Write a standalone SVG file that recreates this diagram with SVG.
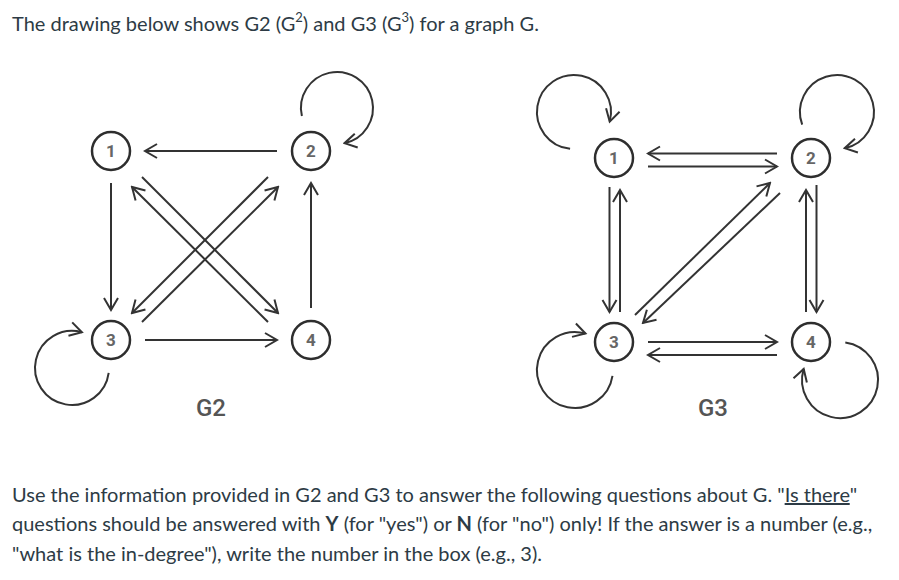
<svg xmlns="http://www.w3.org/2000/svg" width="899" height="580" viewBox="0 0 899 580">
<style>
.para{font-family:Lato,"Liberation Sans",sans-serif;font-size:20px;fill:#2d3b45}
.node circle{fill:#fff;stroke:#2e2e2e;stroke-width:2.5}
.node text{font-family:Roboto,"Liberation Sans",sans-serif;font-size:17px;font-weight:bold;fill:#666;text-anchor:middle}
.lbl{font-family:Roboto,"Liberation Sans",sans-serif;font-size:24px;font-weight:500;fill:#555;text-anchor:middle}
.edges path{fill:none;stroke:#333;stroke-width:2;marker-end:url(#ah)}
</style>
<defs>
<marker id="ah" markerUnits="userSpaceOnUse" viewBox="-14 -9 16 18" refX="0" refY="0" markerWidth="16" markerHeight="18" orient="auto">
<path d="M-12,-7 L0,0 L-12,7" fill="none" stroke="#333" stroke-width="2" stroke-linejoin="miter"/>
</marker>
</defs>
<rect width="899" height="580" fill="#fff"/>
<text class="para" x="12" y="31">The drawing below shows G2 (G<tspan font-size="13" dy="-9">2</tspan><tspan dy="9">) and G3 (G</tspan><tspan font-size="13" dy="-9">3</tspan><tspan dy="9">) for a graph G.</tspan></text>

<g class="edges" id="connectors">
<!-- G2 -->
<path d="M277,151 L145,151"/>
<path d="M111,183 L111,310"/>
<path d="M311,308 L311,183"/>
<path d="M145,340 L277,340"/>
<path d="M142,177 L278,313"/>
<path d="M268,322 L132,187"/>
<path d="M142,322 L278,187"/>
<path d="M268,177 L132,313"/>
<path d="M301.9,116.1 A36,36 0 1 1 344.5,143.2"/>
<path d="M108.7,372.8 A37,37 0 1 1 81.9,332.3"/>
<!-- G3 -->
<path d="M777,153.5 L648,153.5"/>
<path d="M648,166.5 L777,166.5"/>
<path d="M648,342 L777,342"/>
<path d="M777,355 L648,355"/>
<path d="M609.5,187 L609.5,312"/>
<path d="M620,312 L620,190"/>
<path d="M806,312 L806,190"/>
<path d="M816.5,185 L816.5,312"/>
<path d="M635,315 L770,183"/>
<path d="M780,193 L643,323"/>
<path d="M570.1,148.8 A37,37 0 1 1 609.7,121.6"/>
<path d="M802.2,124.7 A37,37 0 1 1 844.7,148.2"/>
<path d="M612.5,375.9 A38,38 0 1 1 585.5,333.5"/>
<path d="M845.3,342.4 A38,38 0 1 1 803.7,368.9"/>
</g>

<g id="g2-n1" class="node"><circle cx="111" cy="151" r="19"/><text x="111" y="157">1</text></g>
<g id="g2-n2" class="node"><circle cx="311" cy="151" r="19"/><text x="311" y="157">2</text></g>
<g id="g2-n3" class="node"><circle cx="111" cy="340" r="19"/><text x="111" y="346">3</text></g>
<g id="g2-n4" class="node"><circle cx="311" cy="340" r="19"/><text x="311" y="346">4</text></g>
<text class="lbl" x="211" y="416">G2</text>

<g id="g3-n1" class="node"><circle cx="614" cy="158" r="19"/><text x="614" y="164">1</text></g>
<g id="g3-n2" class="node"><circle cx="811" cy="158" r="19"/><text x="811" y="164">2</text></g>
<g id="g3-n3" class="node"><circle cx="614" cy="342" r="19"/><text x="614" y="348">3</text></g>
<g id="g3-n4" class="node"><circle cx="811" cy="342" r="19"/><text x="811" y="348">4</text></g>
<text class="lbl" x="713" y="416">G3</text>

<text class="para" x="12" y="502">Use the information provided in G2 and G3 to answer the following questions about G. "<tspan text-decoration="underline">Is there</tspan>"</text>
<text class="para" x="12" y="531">questions should be answered with <tspan font-weight="bold">Y</tspan> (for "yes") or <tspan font-weight="bold">N</tspan> (for "no") only! If the answer is a number (e.g.,</text>
<text class="para" x="12" y="561">"what is the in-degree"), write the number in the box (e.g., 3).</text>
</svg>
